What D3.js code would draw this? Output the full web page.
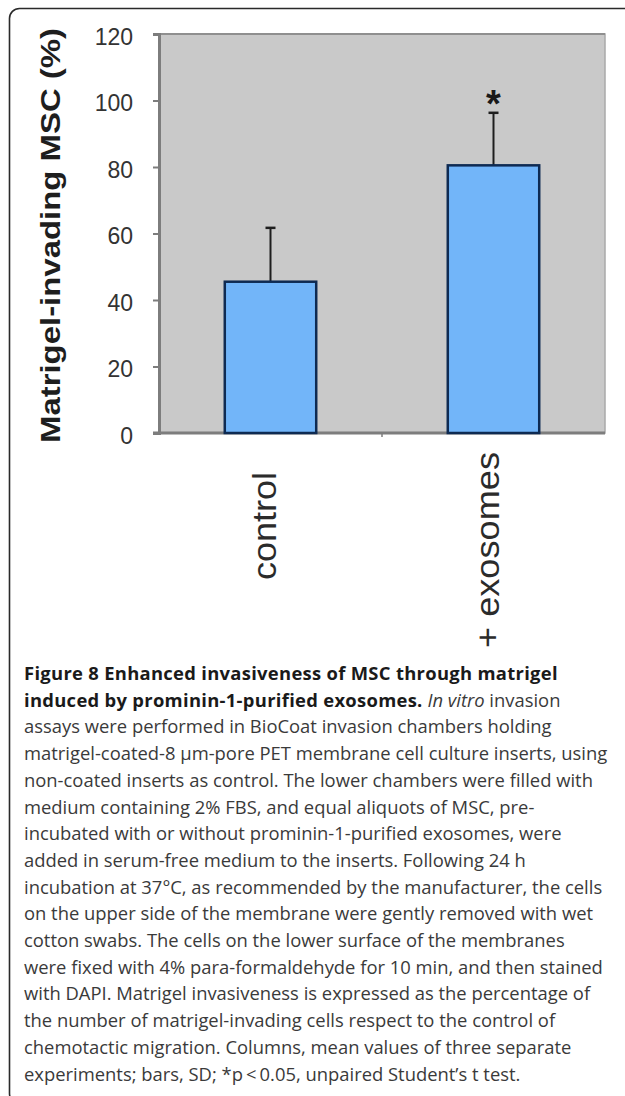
<html>
<meta charset="utf-8" />
<head>
<title>Figure 8 Matrigel invasion</title>
<script src="https://cdn.jsdelivr.net/npm/d3@7" type="text/javascript"></script>
<style>
	body { margin: 0; background: #fff; }
	svg { display: block; }
</style>
</head>
<body>
<svg id="fig" width="625" height="1096"></svg>
<script>
// values
const categories = ['control', '+ exosomes'];
const means = [45.5, 80.5];
const sds = [16.2, 15.8];
const marks = ['', '*'];
const yTicks = [0, 20, 40, 60, 80, 100, 120];
const yTitle = 'Matrigel-invading MSC (%)';

// caption, one entry per printed line; each line is a list of [text, style]
const captionLines = [
	[['Figure 8 Enhanced invasiveness of MSC through matrigel', 'b']],
	[['induced by prominin-1-purified exosomes.', 'b'], [' ', 'n'], ['In vitro', 'i'], [' invasion', 'n']],
	[['assays were performed in BioCoat invasion chambers holding', 'n']],
	[['matrigel-coated-8 \u00b5m-pore PET membrane cell culture inserts, using', 'n']],
	[['non-coated inserts as control. The lower chambers were filled with', 'n']],
	[['medium containing 2% FBS, and equal aliquots of MSC, pre-', 'n']],
	[['incubated with or without prominin-1-purified exosomes, were', 'n']],
	[['added in serum-free medium to the inserts. Following 24 h', 'n']],
	[['incubation at 37\u00b0C, as recommended by the manufacturer, the cells', 'n']],
	[['on the upper side of the membrane were gently removed with wet', 'n']],
	[['cotton swabs. The cells on the lower surface of the membranes', 'n']],
	[['were fixed with 4% para-formaldehyde for 10 min, and then stained', 'n']],
	[['with DAPI. Matrigel invasiveness is expressed as the percentage of', 'n']],
	[['the number of matrigel-invading cells respect to the control of', 'n']],
	[['chemotactic migration. Columns, mean values of three separate', 'n']],
	[['experiments; bars, SD; *p\u2009<\u20090.05, unpaired Student\u2019s t test.', 'n']]
];

let svg = d3.select('#fig');

// frame round the figure (right and bottom run off the page)
svg.append('rect')
	.attr('x', 9.5).attr('y', 8.5)
	.attr('width', 630).attr('height', 1095)
	.attr('rx', 10).attr('ry', 10)
	.attr('fill', 'none')
	.attr('stroke', '#2a2a2a')
	.attr('stroke-width', 1.6);

let plot = { left: 159, right: 605, top: 34, bottom: 433 };

let xScale = d3.scaleBand()
	.domain(categories)
	.range([plot.left, plot.right])
	.paddingInner(0.59)
	.paddingOuter(0.295);

let yScale = d3.scaleLinear().domain([0, 120]).range([plot.bottom, plot.top]);

// grey plot area
svg.append('rect')
	.attr('x', plot.left).attr('y', plot.top)
	.attr('width', plot.right - plot.left)
	.attr('height', plot.bottom - plot.top)
	.attr('fill', '#c9c9c9')
	.attr('stroke', '#a9a9a9')
	.attr('stroke-width', 1.5);
svg.append('line')
	.attr('x1', plot.left).attr('x2', plot.right)
	.attr('y1', plot.top).attr('y2', plot.top)
	.attr('stroke', '#8f8f8f').attr('stroke-width', 2);

// y axis
let yAxis = d3.axisLeft(yScale).tickValues(yTicks).tickSize(6).tickPadding(20);
let yAxisG = svg.append('g')
	.attr('transform', 'translate(' + plot.left + ',0)')
	.call(yAxis);
yAxisG.select('.domain').attr('stroke', '#7d7d7d').attr('stroke-width', 3);
yAxisG.selectAll('.tick line').attr('stroke', '#7d7d7d').attr('stroke-width', 2);
yAxisG.selectAll('.tick text')
	.attr('font-family', 'Liberation Sans, Arial, sans-serif')
	.attr('font-size', 23)
	.attr('fill', '#333')
	.attr('dy', '0.45em');

// x axis: line only, one tick between the two columns
let xAxis = d3.axisBottom(xScale).tickSize(0).tickFormat('');
let xAxisG = svg.append('g')
	.attr('transform', 'translate(0,' + plot.bottom + ')')
	.call(xAxis);
xAxisG.select('.domain').attr('d', 'M' + (plot.left - 6) + ',0H' + plot.right)
	.attr('stroke', '#7d7d7d').attr('stroke-width', 3);
let midTick = xScale(categories[0]) + xScale.bandwidth() + (xScale.step() - xScale.bandwidth()) / 2;
xAxisG.append('line')
	.attr('x1', midTick).attr('x2', midTick)
	.attr('y1', 0).attr('y2', 4)
	.attr('stroke', '#7d7d7d').attr('stroke-width', 1.5);

// error bars (upper half only)
let errG = svg.append('g');
categories.forEach((c, i) => {
	let cx = xScale(c) + xScale.bandwidth() / 2;
	errG.append('line')
		.attr('x1', cx).attr('x2', cx)
		.attr('y1', yScale(means[i])).attr('y2', yScale(means[i] + sds[i]))
		.attr('stroke', '#1e1e1e').attr('stroke-width', 2);
	errG.append('line')
		.attr('x1', cx - 5).attr('x2', cx + 5)
		.attr('y1', yScale(means[i] + sds[i])).attr('y2', yScale(means[i] + sds[i]))
		.attr('stroke', '#1e1e1e').attr('stroke-width', 2.5);
});

// columns
svg.append('g').selectAll('rect')
	.data(categories)
	.join('rect')
	.attr('x', (d) => xScale(d))
	.attr('y', (d, i) => yScale(means[i]))
	.attr('width', xScale.bandwidth())
	.attr('height', (d, i) => yScale(0) - yScale(means[i]))
	.attr('fill', '#72b5f9')
	.attr('stroke', '#0e2a52')
	.attr('stroke-width', 2.5);

// significance star
svg.append('g').selectAll('text')
	.data(categories)
	.join('text')
	.attr('x', (d) => xScale(d) + xScale.bandwidth() / 2)
	.attr('y', (d, i) => yScale(means[i] + sds[i]) + 4)
	.attr('text-anchor', 'middle')
	.attr('font-family', 'Liberation Sans, Arial, sans-serif')
	.attr('font-weight', 'bold')
	.attr('font-size', 38)
	.attr('fill', '#1a1a1a')
	.text((d, i) => marks[i]);

// rotated category labels (printed stretched along their length)
let labelEnd = [472, 452];
let labelLen = [108, 196];
svg.append('g').selectAll('text')
	.data(categories)
	.join('text')
	.attr('transform', (d, i) => 'translate(' + (xScale(d) + xScale.bandwidth() / 2 + 5) + ',' + labelEnd[i] + ') rotate(-90)')
	.attr('text-anchor', 'end')
	.attr('font-family', 'Liberation Sans, Arial, sans-serif')
	.attr('font-size', 33)
	.attr('fill', '#2b2b2b')
	.attr('textLength', (d, i) => labelLen[i])
	.attr('lengthAdjust', 'spacingAndGlyphs')
	.text((d) => d);

// y axis title
svg.append('text')
	.attr('transform', 'translate(60,' + ((plot.top + plot.bottom) / 2 + 2) + ') rotate(-90)')
	.attr('text-anchor', 'middle')
	.attr('font-family', 'Liberation Sans, Arial, sans-serif')
	.attr('font-weight', 'bold')
	.attr('font-size', 28)
	.attr('fill', '#1e1e1e')
	.attr('textLength', 415)
	.attr('lengthAdjust', 'spacingAndGlyphs')
	.text(yTitle);

// caption
let cap = svg.append('g')
	.attr('font-family', 'Open Sans, sans-serif')
	.attr('font-size', 18.4);
captionLines.forEach((line, i) => {
	let t = cap.append('text')
		.attr('x', 24)
		.attr('y', 680 + i * 26.7);
	line.forEach((seg) => {
		t.append('tspan')
			.attr('font-weight', seg[1] == 'b' ? 'bold' : 'normal')
			.attr('font-style', seg[1] == 'i' ? 'italic' : 'normal')
			.attr('letter-spacing', seg[1] == 'b' ? 0.3 : 0)
			.attr('fill', seg[1] == 'b' ? '#1a1a1a' : '#3a3a3a')
			.text(seg[0]);
	});
});
</script>
</body>
</html>
